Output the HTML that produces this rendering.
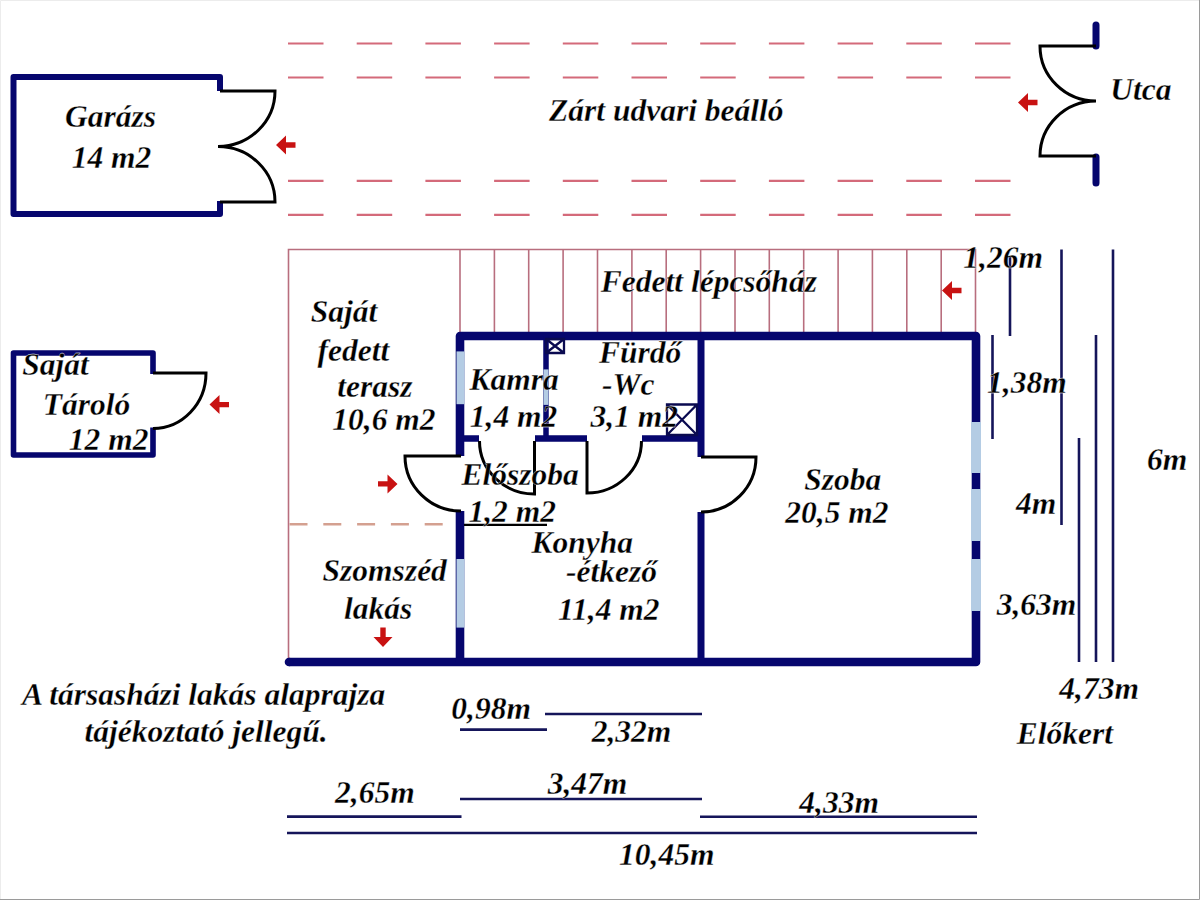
<!DOCTYPE html>
<html><head><meta charset="utf-8"><style>
html,body{margin:0;padding:0;background:#fff;}
body{width:1200px;height:900px;overflow:hidden;position:relative;}
svg{position:absolute;left:0;top:0;}
text{font-family:"Liberation Serif",serif;font-weight:bold;font-style:italic;font-size:31.5px;fill:#000;stroke:#fff;stroke-width:0.3px;paint-order:fill stroke;}
</style></head><body>
<svg width="1200" height="900" viewBox="0 0 1200 900">
<rect x="0" y="0" width="1200" height="900" fill="#fff"/>
<line x1="288" y1="43.5" x2="1011" y2="43.5" stroke="#d46a7a" stroke-width="2.2" stroke-dasharray="35.5 33.2"/>
<line x1="288" y1="77.5" x2="1011" y2="77.5" stroke="#d46a7a" stroke-width="2.2" stroke-dasharray="35.5 33.2"/>
<line x1="288" y1="180.8" x2="1011" y2="180.8" stroke="#d46a7a" stroke-width="2.2" stroke-dasharray="35.5 33.2"/>
<line x1="288" y1="214.8" x2="1011" y2="214.8" stroke="#d46a7a" stroke-width="2.2" stroke-dasharray="35.5 33.2"/>
<path d="M220,91 V77 H13.5 V214 H220 V201" fill="none" stroke="#06066e" stroke-width="6" stroke-linecap="butt" stroke-linejoin="round"/>
<path d="M220,91 H275 A57,55.5 0 0 1 218,146.5 A57,55.5 0 0 1 275,202 H220" fill="none" stroke="#000" stroke-width="3"/>
<path d="M1096,25 V46 M1096,157 V183" fill="none" stroke="#06066e" stroke-width="7" stroke-linecap="round"/>
<path d="M1096,46 H1040 A56,55 0 0 0 1096,101 A56,55 0 0 0 1040,156 H1096" fill="none" stroke="#000" stroke-width="3"/>
<path d="M153,374 V353 H13.5 V455 H153 V427.5" fill="none" stroke="#06066e" stroke-width="5.6" stroke-linecap="butt" stroke-linejoin="round"/>
<path d="M153,373 H206 A53,55.5 0 0 1 153,428.5" fill="none" stroke="#000" stroke-width="3"/>
<path d="M288.5,662 V249.5 H975.5 V336" fill="none" stroke="#b86e7e" stroke-width="1.6"/>
<line x1="460.0" y1="249.5" x2="460.0" y2="336" stroke="#b86e7e" stroke-width="1.6"/>
<line x1="494.4" y1="249.5" x2="494.4" y2="336" stroke="#b86e7e" stroke-width="1.6"/>
<line x1="528.7" y1="249.5" x2="528.7" y2="336" stroke="#b86e7e" stroke-width="1.6"/>
<line x1="563.1" y1="249.5" x2="563.1" y2="336" stroke="#b86e7e" stroke-width="1.6"/>
<line x1="597.5" y1="249.5" x2="597.5" y2="336" stroke="#b86e7e" stroke-width="1.6"/>
<line x1="631.9" y1="249.5" x2="631.9" y2="336" stroke="#b86e7e" stroke-width="1.6"/>
<line x1="666.2" y1="249.5" x2="666.2" y2="336" stroke="#b86e7e" stroke-width="1.6"/>
<line x1="700.6" y1="249.5" x2="700.6" y2="336" stroke="#b86e7e" stroke-width="1.6"/>
<line x1="735.0" y1="249.5" x2="735.0" y2="336" stroke="#b86e7e" stroke-width="1.6"/>
<line x1="769.3" y1="249.5" x2="769.3" y2="336" stroke="#b86e7e" stroke-width="1.6"/>
<line x1="803.7" y1="249.5" x2="803.7" y2="336" stroke="#b86e7e" stroke-width="1.6"/>
<line x1="838.1" y1="249.5" x2="838.1" y2="336" stroke="#b86e7e" stroke-width="1.6"/>
<line x1="872.4" y1="249.5" x2="872.4" y2="336" stroke="#b86e7e" stroke-width="1.6"/>
<line x1="906.8" y1="249.5" x2="906.8" y2="336" stroke="#b86e7e" stroke-width="1.6"/>
<line x1="941.2" y1="249.5" x2="941.2" y2="336" stroke="#b86e7e" stroke-width="1.6"/>
<line x1="289.5" y1="524.3" x2="444" y2="524.3" stroke="#d4a090" stroke-width="2.6" stroke-dasharray="18 15.8"/>
<path d="M460,456 V336 H976 V662 H289" fill="none" stroke="#06066e" stroke-width="8.6" stroke-linecap="butt" stroke-linejoin="round"/>
<circle cx="289" cy="662" r="4.3" fill="#06066e"/>
<path d="M460,511 V662" fill="none" stroke="#06066e" stroke-width="8.6"/>
<path d="M546,336 V438.5" fill="none" stroke="#06066e" stroke-width="5.5"/>
<path d="M701,336 V457 M701,512 V662" fill="none" stroke="#06066e" stroke-width="7"/>
<path d="M460,438.5 H479 M535,438.5 H587 M642,438.5 H701" fill="none" stroke="#06066e" stroke-width="6.5"/>
<rect x="456.5" y="351.4" width="8.0" height="52.80000000000001" fill="#b4cce4"/>
<rect x="456.5" y="559" width="8.0" height="68.60000000000002" fill="#b4cce4"/>
<rect x="543.5" y="369.4" width="5.0" height="35.5" fill="#b4cce4"/>
<rect x="971" y="422" width="10" height="51" fill="#b4cce4"/>
<rect x="971" y="489" width="10" height="52" fill="#b4cce4"/>
<rect x="971" y="559" width="10" height="52" fill="#b4cce4"/>
<path d="M546,339 H564 V353 H546 Z M546,339 L564,353 M564,339 L546,353" fill="none" stroke="#0a0a50" stroke-width="2.3"/>
<path d="M667,404.5 H697 V435 H667 Z M667,404.5 L697,435 M697,404.5 L667,435" fill="none" stroke="#0a0a50" stroke-width="2.3"/>
<path d="M461,456 H405 A56,55 0 0 0 461,511" fill="none" stroke="#000" stroke-width="3"/>
<path d="M534.5,441 V494 A55,53 0 0 1 479.5,441" fill="none" stroke="#000" stroke-width="3"/>
<path d="M587,441 V493 A54.5,52 0 0 0 641.5,441" fill="none" stroke="#000" stroke-width="3"/>
<path d="M701,457 H756 A55,55 0 0 1 701,512" fill="none" stroke="#000" stroke-width="3"/>
<line x1="464" y1="524.8" x2="547" y2="524.8" stroke="#000" stroke-width="2.2"/>
<polygon points="276.0,145.0 286.0,135.5 286.0,142.3 295.5,142.3 295.5,147.7 286.0,147.7 286.0,154.5" fill="#c81212"/>
<polygon points="1018.0,102.5 1028.0,93.0 1028.0,99.8 1037.5,99.8 1037.5,105.2 1028.0,105.2 1028.0,112.0" fill="#c81212"/>
<polygon points="209.5,404.6 219.5,395.1 219.5,401.9 229.0,401.9 229.0,407.3 219.5,407.3 219.5,414.1" fill="#c81212"/>
<polygon points="942.0,290.5 952.0,281.0 952.0,287.8 961.5,287.8 961.5,293.2 952.0,293.2 952.0,300.0" fill="#c81212"/>
<polygon points="397.5,483.9 387.5,474.4 387.5,481.2 378.0,481.2 378.0,486.6 387.5,486.6 387.5,493.4" fill="#c81212"/>
<polygon points="383.0,647.0 373.5,637.0 380.3,637.0 380.3,627.5 385.7,627.5 385.7,637.0 392.5,637.0" fill="#c81212"/>
<line x1="1010" y1="257" x2="1010" y2="336" stroke="#15155a" stroke-width="2.6"/>
<line x1="992.5" y1="335" x2="992.5" y2="439" stroke="#15155a" stroke-width="2.6"/>
<line x1="1061.5" y1="249.5" x2="1061.5" y2="525" stroke="#15155a" stroke-width="2.6"/>
<line x1="1079" y1="438" x2="1079" y2="662" stroke="#15155a" stroke-width="2.6"/>
<line x1="1096" y1="335" x2="1096" y2="662" stroke="#15155a" stroke-width="2.6"/>
<line x1="1113" y1="249.5" x2="1113" y2="662" stroke="#15155a" stroke-width="2.6"/>
<line x1="460" y1="729.6" x2="547" y2="729.6" stroke="#15155a" stroke-width="2.6"/>
<line x1="545" y1="714" x2="702" y2="714" stroke="#15155a" stroke-width="2.6"/>
<line x1="460" y1="799" x2="702" y2="799" stroke="#15155a" stroke-width="2.6"/>
<line x1="287" y1="816.6" x2="461.5" y2="816.6" stroke="#15155a" stroke-width="2.6"/>
<line x1="700" y1="816.7" x2="977" y2="816.7" stroke="#15155a" stroke-width="2.6"/>
<line x1="287" y1="833" x2="977" y2="833" stroke="#15155a" stroke-width="2.6"/>
<text x="549.1" y="121.3">Zárt udvari beálló</text>
<text x="65.0" y="127.3">Garázs</text>
<text x="71.7" y="167.8">14 m2</text>
<text x="1110.3" y="100.1">Utca</text>
<text x="600.8" y="292.1">Fedett lépcsőház</text>
<text x="963.3" y="267.7">1,26m</text>
<text x="310.7" y="322.1">Saját</text>
<text x="317.5" y="360.8">fedett</text>
<text x="337.3" y="396.6">terasz</text>
<text x="332.3" y="430.0">10,6 m2</text>
<text x="22.3" y="375.2">Saját</text>
<text x="42.8" y="414.8">Tároló</text>
<text x="68.8" y="450.2">12 m2</text>
<text x="469.4" y="390.0">Kamra</text>
<text x="469.8" y="427.2">1,4 m2</text>
<text x="598.9" y="362.6">Fürdő</text>
<text x="602.0" y="394.6">-Wc</text>
<text x="590.5" y="427.2">3,1 m2</text>
<text x="461.6" y="485.3">Előszoba</text>
<text x="468.4" y="521.5">1,2 m2</text>
<text x="531.6" y="553.3">Konyha</text>
<text x="566.1" y="581.8">-étkező</text>
<text x="558.1" y="619.5">11,4 m2</text>
<text x="322.6" y="581.2">Szomszéd</text>
<text x="344.0" y="618.6">lakás</text>
<text x="804.3" y="490.1">Szoba</text>
<text x="785.3" y="522.9">20,5 m2</text>
<text x="987.0" y="392.8">1,38m</text>
<text x="1016.0" y="514.1">4m</text>
<text x="996.7" y="614.8">3,63m</text>
<text x="1147.0" y="470.1">6m</text>
<text x="1059.3" y="699.1">4,73m</text>
<text x="1016.7" y="743.5">Előkert</text>
<text x="22.0" y="704.9">A társasházi lakás alaprajza</text>
<text x="84.4" y="741.8">tájékoztató jellegű.</text>
<text x="451.3" y="719.4">0,98m</text>
<text x="591.7" y="742.1">2,32m</text>
<text x="335.0" y="802.6">2,65m</text>
<text x="547.7" y="793.5">3,47m</text>
<text x="799.3" y="812.5">4,33m</text>
<text x="619.0" y="864.8">10,45m</text>
<path d="M0.5,900 V0.5 H1200" fill="none" stroke="#ececec" stroke-width="1"/>
<path d="M0,899.5 H1199.5 V0" fill="none" stroke="#9a9a9a" stroke-width="1"/>
</svg>
</body></html>
